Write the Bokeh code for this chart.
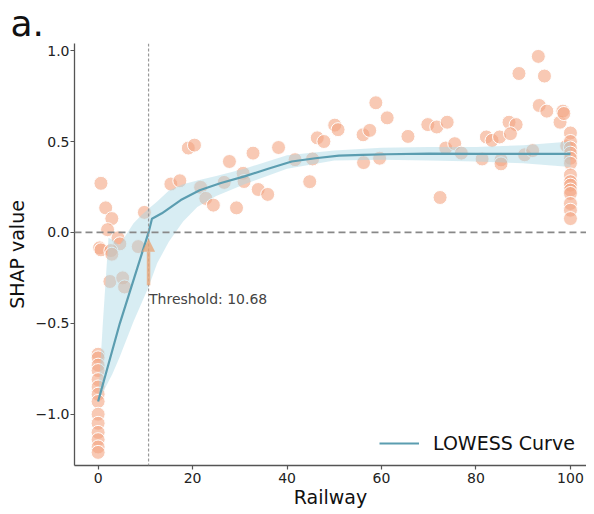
from bokeh.plotting import figure
from bokeh.models import Span, Label, Arrow, NormalHead, FixedTicker
from bokeh.embed import file_html
from bokeh.resources import INLINE

# ---- data ----
railway = [0, 0, 0, 0, 0, 0, 0, 0, 0, 0, 0, 0, 0, 0,
           0.6, 1.6, 2.9, 2.0, 4.2, 4.6, 0.3, 0.6, 2.7, 2.9, 8.5, 9.8, 2.5, 5.2, 5.6,
           15.4, 17.3, 19.1, 20.4, 21.7, 22.8, 24.4, 27.8, 26.7, 29.3, 30.7, 30.9,
           32.8, 33.9, 35.9, 38.2, 41.7, 44.8, 45.4, 46.4, 47.8, 50.1, 50.8,
           56.1, 57.5, 58.8, 61.2, 56.2, 59.6, 65.6, 69.8, 71.7, 73.9, 72.4, 73.6,
           75.5, 76.9, 81.3, 82.2, 83.4, 85.0, 87.0, 88.5, 87.3, 89.1, 93.2, 94.5,
           93.4, 95.0, 97.8, 98.4, 98.6, 85.3, 85.3, 90.3, 92.0, 99.2,
           100, 100, 100, 100, 100, 100, 100, 100, 100, 100, 100, 100, 100, 100]
shap = [-0.67, -0.69, -0.73, -0.76, -0.81, -0.85, -0.89, -0.93, -1.00, -1.05, -1.10, -1.14, -1.18, -1.21,
        0.27, 0.135, 0.076, 0.015, -0.03, -0.063, -0.085, -0.096, -0.10, -0.12, -0.078, 0.11, -0.27, -0.25, -0.30,
        0.266, 0.284, 0.464, 0.48, 0.248, 0.187, 0.15, 0.39, 0.275, 0.135, 0.325, 0.28,
        0.436, 0.236, 0.209, 0.467, 0.40, 0.279, 0.404, 0.52, 0.50, 0.59, 0.565,
        0.537, 0.561, 0.713, 0.63, 0.384, 0.408, 0.528, 0.593, 0.58, 0.606, 0.192, 0.464,
        0.488, 0.436, 0.404, 0.525, 0.506, 0.525, 0.606, 0.593, 0.543, 0.874, 0.968, 0.86,
        0.698, 0.667, 0.606, 0.667, 0.654, 0.399, 0.377, 0.427, 0.45, 0.476,
        0.547, 0.50, 0.464, 0.436, 0.408, 0.38, 0.316, 0.279, 0.26, 0.233, 0.214, 0.159, 0.122, 0.076]

lowess_x = [0, 4.6, 10.68, 11.4, 13.5, 17.5, 21.5, 26, 31, 36, 41, 46, 51, 56, 61, 70, 80, 90, 100]
lowess_y = [-0.93, -0.50, 0.0, 0.075, 0.105, 0.178, 0.232, 0.272, 0.308, 0.35, 0.39, 0.408, 0.422,
            0.426, 0.43, 0.433, 0.432, 0.432, 0.432]

band_x = [0, 1, 2.2, 3, 4.5, 7.5, 9, 10.68, 12.5, 15, 18, 21, 25, 31, 40, 50, 60, 70, 80, 90, 100]
band_upper = [-0.93, -0.50, -0.03, -0.04, -0.07, 0.05, 0.09, 0.13, 0.17, 0.23, 0.265, 0.285, 0.31,
              0.35, 0.425, 0.45, 0.465, 0.47, 0.47, 0.48, 0.50]
band_lower = [-0.93, -0.88, -0.82, -0.78, -0.69, -0.49, -0.40, -0.30, -0.17, -0.05, 0.06, 0.14, 0.20,
              0.265, 0.35, 0.395, 0.40, 0.395, 0.39, 0.38, 0.36]

threshold = 10.68
x_ticks = [0, 20, 40, 60, 80, 100]
y_ticks = [-1.0, -0.5, 0.0, 0.5, 1.0]
y_tick_labels = ["\u22121.0", "\u22120.5", "0.0", "0.5", "1.0"]

FONT = "DejaVu Sans"

p = figure(width=586, height=510, x_range=(-5, 103.4), y_range=(-1.282, 1.039),
           output_backend="svg", toolbar_location=None,
           min_border_left=74, min_border_right=0, min_border_top=0, min_border_bottom=41)
p.outline_line_color = None
p.xgrid.visible = False
p.ygrid.visible = False
p.background_fill_color = "white"
p.border_fill_color = "white"

# panel letter as the title
p.title.text = "a."
p.title.text_font = FONT
p.title.text_font_size = "36px"
p.title.text_font_style = "normal"
p.title.text_color = "#111111"
p.title.align = "left"
p.title.offset = -64
p.title.standoff = 0

# points
p.scatter(railway, shap, size=14, fill_color="#f4a582", fill_alpha=0.6,
          line_color="white", line_width=1)

# confidence band
p.varea(x=band_x, y1=band_lower, y2=band_upper, fill_color="#a9d6e5", fill_alpha=0.45)

# LOWESS line
p.line(lowess_x, lowess_y, line_color="#5b9db0", line_width=2.2, legend_label="LOWESS Curve")

# reference lines
p.add_layout(Span(location=0, dimension="width", line_color="#888888",
                  line_width=1.8, line_dash="7 4"))
p.add_layout(Span(location=threshold, dimension="height", line_color="#999999",
                  line_width=1.2, line_dash="3 2"))

# threshold arrow & text
p.add_layout(Arrow(end=NormalHead(size=13, fill_color="#e9a679", fill_alpha=0.8,
                                  line_color="#e9a679", line_alpha=0.0),
                   x_start=threshold, y_start=-0.29, x_end=threshold, y_end=-0.035,
                   line_color="#e9a679", line_width=3.5, line_alpha=0.8))
p.add_layout(Label(x=threshold + 0.1, y=-0.365, text=f"Threshold: {threshold}",
                   text_font=FONT, text_font_size="14px", text_color="#444444",
                   text_baseline="middle", text_align="left"))

# axes
for ax in (p.xaxis[0], p.yaxis[0]):
    ax.axis_line_color = "#555555"
    ax.axis_line_width = 1.3
    ax.major_tick_line_color = "#555555"
    ax.major_tick_line_width = 1.2
    ax.major_tick_in = 0
    ax.major_tick_out = 4
    ax.minor_tick_line_color = None
    ax.major_label_text_font = FONT
    ax.major_label_text_font_size = "14px"
    ax.major_label_text_color = "#222222"
    ax.axis_label_text_font = FONT
    ax.axis_label_text_font_size = "19px"
    ax.axis_label_text_font_style = "normal"
    ax.axis_label_text_color = "#111111"

p.xaxis.ticker = FixedTicker(ticks=x_ticks)
p.yaxis.ticker = FixedTicker(ticks=y_ticks)
p.yaxis.major_label_overrides = {t: s for t, s in zip(y_ticks, y_tick_labels)}

p.xaxis.major_label_standoff = 3
p.xaxis.axis_label = "Railway"
p.xaxis.axis_label_standoff = 0

p.yaxis.major_label_standoff = 1
p.yaxis.axis_label = "SHAP value"
p.yaxis.axis_label_standoff = 5

# legend
p.legend.location = (305, 11)
p.legend.border_line_color = None
p.legend.background_fill_alpha = 0
p.legend.padding = 0
p.legend.margin = 0
p.legend.glyph_width = 40
p.legend.label_standoff = 14
p.legend.label_text_font = FONT
p.legend.label_text_font_size = "19px"
p.legend.label_text_color = "#111111"

open("out.html", "w").write(file_html(p, INLINE))
